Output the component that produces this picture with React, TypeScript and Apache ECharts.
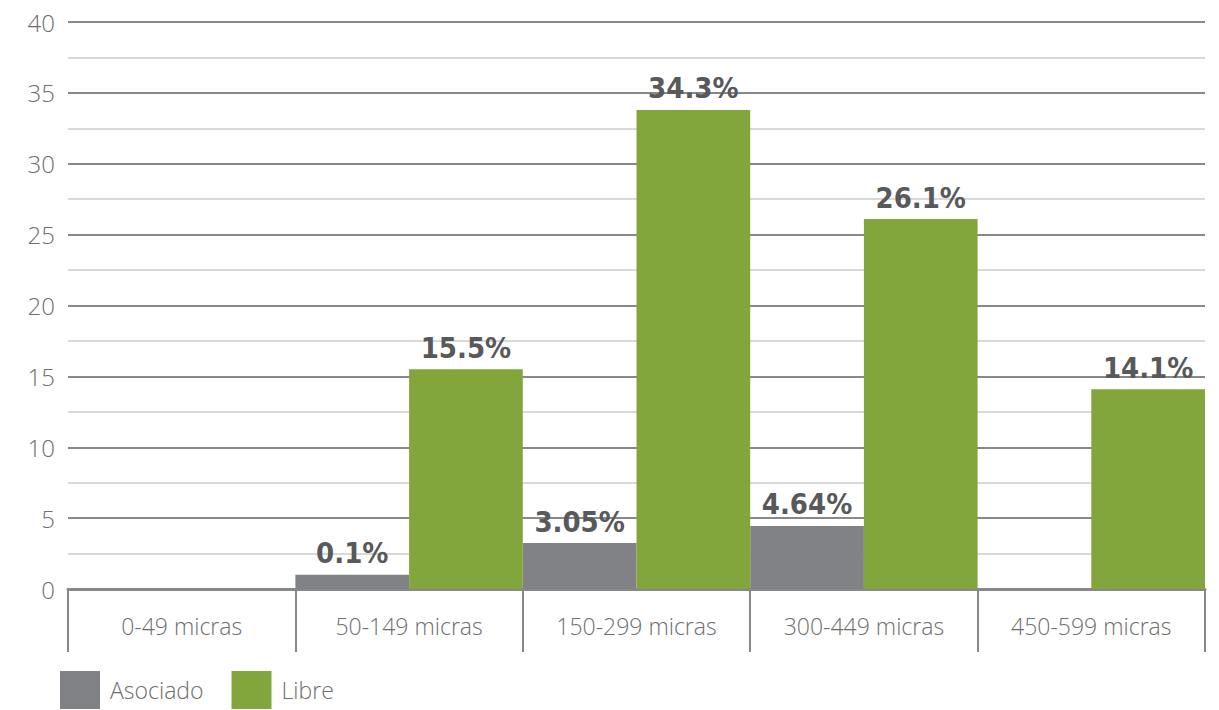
import React, { useEffect, useRef } from "react";
import * as echarts from "echarts";

const categories = ["0-49 micras", "50-149 micras", "150-299 micras", "300-449 micras", "450-599 micras"];
const asociado = [0, 1.0, 3.24, 4.45, 0];
const libre = [0, 15.5, 33.8, 26.1, 14.1];
const asociadoLabels = ["", "0.1%", "3.05%", "4.64%", ""];
const libreLabels = ["", "15.5%", "34.3%", "26.1%", "14.1%"];

const GRAY = "#808285";
const GREEN = "#83a63c";
const TEXT_FONT = "'Open Sans', 'Noto Sans', sans-serif";

export default function App() {
  const ref = useRef<HTMLDivElement>(null);
  useEffect(() => {
    document.body.style.margin = "0";
    const chart = echarts.init(ref.current!, null, { renderer: "svg" });
    const labelStyle = {
      show: true,
      position: "top" as const,
      distance: 7,
      fontFamily: "'DejaVu Sans Condensed', 'Liberation Sans Narrow', 'Roboto', sans-serif",
      fontWeight: "bold" as const,
      fontSize: 29,
      color: "#58595b",
    };
    chart.setOption({
      animation: false,
      grid: { left: 68, right: 14, top: 22, bottom: 121, containLabel: false },
      legend: {
        left: 60,
        top: 671,
        padding: 0,
        itemWidth: 40,
        itemHeight: 38,
        itemGap: 28,
        icon: "rect",
        textStyle: { fontFamily: TEXT_FONT, fontWeight: 300, fontSize: 23, lineHeight: 26, color: "#6d6e71", padding: [0, 0, 0, 5] },
        data: ["Asociado", "Libre"],
      },
      xAxis: {
        type: "category",
        data: categories,
        axisLine: { show: true, lineStyle: { color: "#87888a", width: 3 } },
        axisTick: { show: true, length: 63, interval: 0, lineStyle: { color: "#87888a", width: 2 } },
        axisLabel: {
          interval: 0,
          margin: 25,
          fontFamily: TEXT_FONT,
          fontWeight: 300,
          fontSize: 23,
          color: "#6d6e71",
        },
      },
      yAxis: {
        type: "value",
        min: 0,
        max: 40,
        interval: 5,
        axisLine: { show: false },
        axisTick: { show: false },
        axisLabel: { margin: 13, fontFamily: TEXT_FONT, fontWeight: 300, fontSize: 24, color: "#6d6e71" },
        splitLine: { show: true, lineStyle: { color: "#87888a", width: 2 } },
        minorTick: { show: false, splitNumber: 2 },
        minorSplitLine: { show: true, lineStyle: { color: "#d9d9d9", width: 2 } },
      },
      series: [
        {
          name: "Asociado",
          type: "bar",
          data: asociado,
          barGap: "0%",
          barCategoryGap: "0%",
          itemStyle: { color: GRAY },
          label: { ...labelStyle, formatter: (p: any) => asociadoLabels[p.dataIndex] },
        },
        {
          name: "Libre",
          type: "bar",
          data: libre,
          barGap: "0%",
          barCategoryGap: "0%",
          itemStyle: { color: GREEN },
          label: { ...labelStyle, formatter: (p: any) => libreLabels[p.dataIndex] },
        },
      ],
    });
    return () => chart.dispose();
  }, []);
  return <div ref={ref} style={{ width: 1219, height: 710 }} />;
}
